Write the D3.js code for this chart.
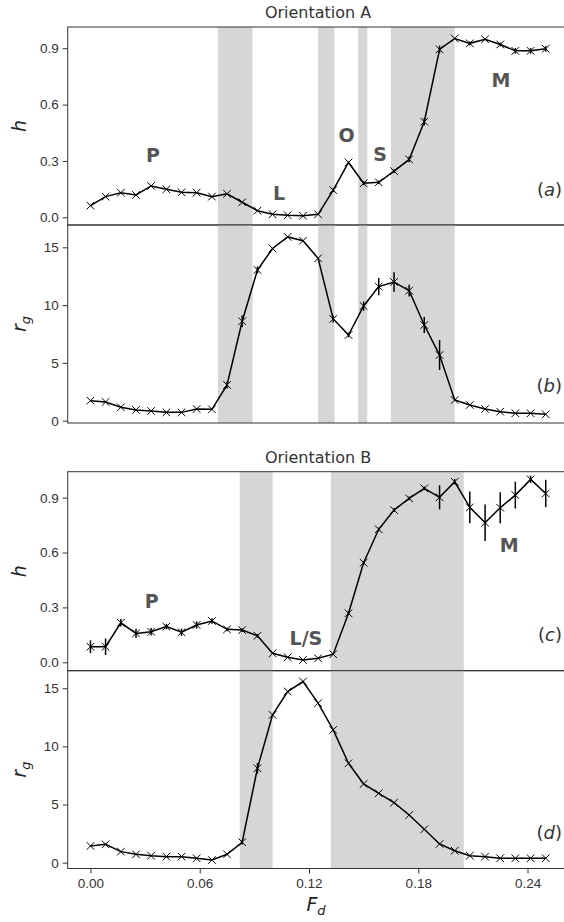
<!DOCTYPE html>
<html>
<head>
<meta charset="utf-8">
<script src="https://cdn.jsdelivr.net/npm/d3@7"></script>
<style>
  html, body { margin: 0; padding: 0; background: #fff; }
  svg { display: block; font-family: "DejaVu Sans", sans-serif; }
  .tick text { fill: #333; font-size: 13.5px; }
  .tick line, .domain { stroke: #333; }
</style>
</head>
<body>
<svg id="chart" width="564" height="922"></svg>
<script>
// ── data ────────────────────────────────────────────────────
const Fd = [0, 0.0083, 0.0167, 0.025, 0.0333, 0.0417, 0.05, 0.0583, 0.0667, 0.075,
            0.0833, 0.0917, 0.1, 0.1083, 0.1167, 0.125, 0.1333, 0.1417, 0.15, 0.1583,
            0.1667, 0.175, 0.1833, 0.1917, 0.2, 0.2083, 0.2167, 0.225, 0.2333, 0.2417, 0.25];

// orientation A
const hA   = [0.062, 0.11, 0.131, 0.119, 0.167, 0.149, 0.133, 0.131, 0.11, 0.125,
              0.08, 0.035, 0.016, 0.011, 0.008, 0.016, 0.145, 0.292, 0.181, 0.186,
              0.246, 0.308, 0.509, 0.894, 0.952, 0.926, 0.948, 0.92, 0.886, 0.886, 0.897];
const hAerr = [0, 0, 0, 0, 0, 0, 0, 0, 0, 0,
               0, 0, 0, 0, 0, 0, 0.01, 0, 0.01, 0.01,
               0.01, 0.015, 0.02, 0.02, 0, 0.01, 0, 0.01, 0.015, 0.015, 0.015];
const rgA  = [1.73, 1.62, 1.16, 0.93, 0.84, 0.72, 0.72, 1.01, 0.98, 3.09,
              8.6, 13.04, 14.9, 15.9, 15.57, 14.05, 8.8, 7.41, 9.92, 11.6,
              12.0, 11.25, 8.28, 5.68, 1.79, 1.36, 1.01, 0.78, 0.64, 0.64, 0.55];
const rgAerr = [0, 0, 0, 0, 0, 0, 0, 0, 0, 0.3,
                0.5, 0.3, 0, 0, 0, 0, 0.3, 0.2, 0.4, 0.75,
                0.85, 0.5, 0.7, 1.3, 0, 0, 0, 0, 0, 0, 0];

// orientation B
const hB   = [0.085, 0.085, 0.216, 0.158, 0.167, 0.195, 0.164, 0.204, 0.226, 0.18,
              0.176, 0.145, 0.049, 0.027, 0.013, 0.022, 0.044, 0.268, 0.544, 0.727,
              0.832, 0.896, 0.951, 0.902, 0.987, 0.847, 0.763, 0.845, 0.914, 1.0, 0.923];
const hBerr = [0.035, 0.045, 0.02, 0.025, 0.02, 0.015, 0.02, 0.02, 0.015, 0.01,
               0.01, 0.01, 0, 0, 0, 0, 0, 0.01, 0.01, 0.01,
               0.01, 0.01, 0.01, 0.066, 0.015, 0.087, 0.1, 0.085, 0.073, 0.02, 0.075];
const rgB  = [1.44, 1.58, 0.95, 0.72, 0.6, 0.52, 0.52, 0.38, 0.23, 0.72,
              1.76, 8.12, 12.71, 14.72, 15.58, 13.72, 11.42, 8.55, 6.77, 5.97,
              5.16, 4.1, 2.87, 1.61, 1.03, 0.6, 0.52, 0.38, 0.38, 0.38, 0.38];
const rgBerr = [0, 0, 0, 0, 0, 0, 0, 0, 0, 0,
                0.2, 0.45, 0, 0, 0, 0, 0, 0, 0, 0,
                0, 0, 0, 0, 0, 0, 0, 0, 0, 0, 0];

// shaded transition bands (Fd ranges)
const bandsA = [[0.070, 0.089], [0.125, 0.134], [0.147, 0.152], [0.165, 0.200]];
const bandsB = [[0.082, 0.100], [0.132, 0.205]];

// tick values
const xTicks  = [0, 0.06, 0.12, 0.18, 0.24];
const hTicks  = [0, 0.3, 0.6, 0.9];
const rgTicks = [0, 5, 10, 15];

// phase labels: [text, Fd, h]
const phasesA = [["P", 0.0343, 0.294], ["L", 0.1035, 0.094], ["O", 0.1407, 0.401],
                 ["S", 0.159, 0.300], ["M", 0.2254, 0.694]];
const phasesB = [["P", 0.0336, 0.297], ["L/S", 0.1183, 0.093], ["M", 0.23, 0.603]];

// ── layout ──────────────────────────────────────────────────
const svg = d3.select("#chart");
const x = d3.scaleLinear().domain([-0.0125, 0.2625]).range([67.7, 568.5]);

const panels = [
  { top: 27,    bottom: 225,   dom: [-0.041, 1.013], y: hA,  err: hAerr,  bands: bandsA, ticks: hTicks,  fmt: d3.format(".1f"), tag: "a", ylab: "h",  title: "Orientation A", phases: phasesA, tagY: 0.113 },
  { top: 225,   bottom: 423,   dom: [-0.2, 16.93],   y: rgA, err: rgAerr, bands: bandsA, ticks: rgTicks, fmt: d3.format("d"),   tag: "b", ylab: "rg", tagY: 2.48 },
  { top: 471.7, bottom: 670.7, dom: [-0.046, 1.042], y: hB,  err: hBerr,  bands: bandsB, ticks: hTicks,  fmt: d3.format(".1f"), tag: "c", ylab: "h",  title: "Orientation B", phases: phasesB, tagY: 0.116 },
  { top: 670.7, bottom: 868.5, dom: [-0.5, 16.51],   y: rgB, err: rgBerr, bands: bandsB, ticks: rgTicks, fmt: d3.format("d"),   tag: "d", ylab: "rg", tagY: 2.04, xaxis: true }
];

const xMark = "M-3.8,-3.8L3.8,3.8M-3.8,3.8L3.8,-3.8";

panels.forEach(p => {
  const y = d3.scaleLinear().domain(p.dom).range([p.bottom, p.top]);
  const g = svg.append("g");

  // 음영 구간
  g.selectAll("rect.band").data(p.bands).join("rect")
    .attr("class", "band")
    .attr("x", d => x(d[0]))
    .attr("width", d => x(d[1]) - x(d[0]))
    .attr("y", p.top)
    .attr("height", p.bottom - p.top)
    .attr("fill", "#d6d6d6");

  // frame
  g.append("rect")
    .attr("x", x.range()[0]).attr("y", p.top)
    .attr("width", x.range()[1] - x.range()[0]).attr("height", p.bottom - p.top)
    .attr("fill", "none").attr("stroke", "#333").attr("stroke-width", 1);

  // y axis
  const ya = g.append("g")
    .attr("transform", `translate(${x.range()[0]},0)`)
    .call(d3.axisLeft(y).tickValues(p.ticks).tickFormat(p.fmt).tickSize(5).tickPadding(4));
  ya.select(".domain").remove();

  // x axis (bottom panel only)
  if (p.xaxis) {
    const xa = g.append("g")
      .attr("transform", `translate(0,${p.bottom})`)
      .call(d3.axisBottom(x).tickValues(xTicks).tickFormat(d3.format(".2f")).tickSize(5).tickPadding(5));
    xa.select(".domain").remove();
  }

  const pts = Fd.map((f, i) => ({ f, v: p.y[i], e: p.err[i] }));

  // error bars
  g.selectAll("line.err").data(pts.filter(d => d.e > 0)).join("line")
    .attr("class", "err")
    .attr("x1", d => x(d.f)).attr("x2", d => x(d.f))
    .attr("y1", d => y(d.v - d.e)).attr("y2", d => y(d.v + d.e))
    .attr("stroke", "#000").attr("stroke-width", 1.5);

  // line
  g.append("path")
    .attr("d", d3.line().x(d => x(d.f)).y(d => y(d.v))(pts))
    .attr("fill", "none").attr("stroke", "#000").attr("stroke-width", 1.5);

  // markers
  g.selectAll("path.mk").data(pts).join("path")
    .attr("class", "mk")
    .attr("transform", d => `translate(${x(d.f)},${y(d.v)})`)
    .attr("d", xMark)
    .attr("stroke", "#000").attr("stroke-width", 1).attr("fill", "none");

  // phase labels
  if (p.phases) {
    g.selectAll("text.ph").data(p.phases).join("text")
      .attr("class", "ph")
      .attr("x", d => x(d[1])).attr("y", d => y(d[2]))
      .attr("text-anchor", "middle")
      .attr("font-size", 19).attr("font-weight", "bold").attr("fill", "#555")
      .text(d => d[0]);
  }

  // panel tag (a)...
  const tg = g.append("text")
    .attr("x", 562).attr("y", y(p.tagY))
    .attr("text-anchor", "end").attr("font-size", 18).attr("fill", "#333");
  tg.append("tspan").text("(");
  tg.append("tspan").attr("font-style", "italic").text(p.tag);
  tg.append("tspan").text(")");

  // y label
  const cy = (p.top + p.bottom) / 2;
  const yl = g.append("text")
    .attr("transform", `translate(26,${cy}) rotate(-90)`)
    .attr("text-anchor", "middle").attr("font-size", 19)
    .attr("font-style", "italic").attr("fill", "#222");
  if (p.ylab === "h") {
    yl.text("h");
  } else {
    yl.append("tspan").text("r");
    yl.append("tspan").attr("font-size", 13).attr("dy", 4).text("g");
  }

  if (p.title) {
    g.append("text")
      .attr("x", (x.range()[0] + x.range()[1]) / 2).attr("y", p.top - 9)
      .attr("text-anchor", "middle").attr("font-size", 16).attr("fill", "#333")
      .text(p.title);
  }
});

// x label
const xl = svg.append("text")
  .attr("x", 316).attr("y", 911)
  .attr("text-anchor", "middle").attr("font-size", 19)
  .attr("font-style", "italic").attr("fill", "#222");
xl.append("tspan").text("F");
xl.append("tspan").attr("font-size", 13).attr("dy", 4).text("d");
</script>
</body>
</html>
